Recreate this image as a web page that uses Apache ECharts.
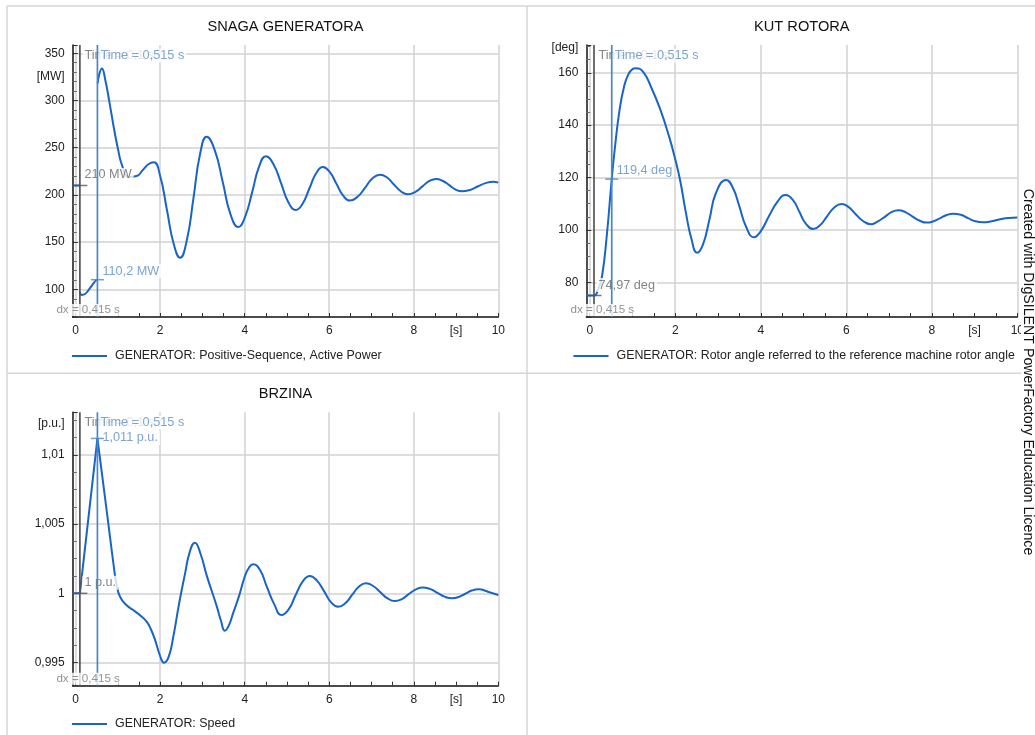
<!DOCTYPE html>
<html>
<head>
<meta charset="utf-8">
<script src="https://cdn.jsdelivr.net/npm/echarts@6/dist/echarts.min.js"></script>
<style>
html,body{margin:0;padding:0;background:#fff;}
#c{width:1035px;height:735px;}
</style>
</head>
<body>
<div id="c"></div>
<script>
// ---------- DATA ----------
const timeLabelValues = [0, 2, 4, 6, 8, 9, 10];
const timeLabelTexts  = ['0', '2', '4', '6', '8', '[s]', '10'];

const powerLabelValues = [100, 150, 200, 250, 300, 325, 350];
const powerLabelTexts  = ['100', '150', '200', '250', '300', '[MW]', '350'];
const rotorLabelValues = [80, 100, 120, 140, 160, 169.5];
const rotorLabelTexts  = ['80', '100', '120', '140', '160', '[deg]'];
const speedLabelValues = [0.995, 1, 1.005, 1.01, 1.0123];
const speedLabelTexts  = ['0,995', '1', '1,005', '1,01', '[p.u.]'];

const titles = ['SNAGA GENERATORA', 'KUT ROTORA', 'BRZINA'];
const seriesNames = [
  'GENERATOR: Positive-Sequence, Active Power',
  'GENERATOR: Rotor angle referred to the reference machine rotor angle',
  'GENERATOR: Speed'
];

// cursor times [s]
const cursorTimes = [0.1, 0.515];
const timeCursorTexts = ['Time = 0,1 s', 'Time = 0,515 s'];
const dxText = 'dx = 0,415 s';

// Active power [MW]
const powerPre = [[-0.07, 210], [0.1, 210]];
const powerFault = [[0.1, 97], [0.15, 94], [0.22, 95], [0.3, 99], [0.4, 105], [0.47, 109], [0.515, 110.2]];
const powerPost = [
  [0.52, 318], [0.56, 328], [0.62, 334], [0.7, 322], [0.8, 298], [0.9, 272], [1.0, 249], [1.1, 231],
  [1.25, 219], [1.44, 220], [1.6, 227], [1.72, 232.5], [1.85, 234.5], [2.0, 220], [2.16, 184],
  [2.32, 148], [2.47, 133.5], [2.63, 152], [2.79, 197.5], [2.94, 242.5], [3.1, 261.5], [3.29, 247.5],
  [3.48, 213.8], [3.66, 180], [3.85, 166], [4.01, 177], [4.18, 203.5], [4.34, 230], [4.5, 241],
  [4.68, 232.6], [4.86, 212.5], [5.03, 192.4], [5.21, 184], [5.37, 190.7], [5.53, 206.8],
  [5.69, 222.9], [5.85, 229.5], [6.01, 224.3], [6.17, 211.8], [6.33, 199.2], [6.49, 194],
  [6.67, 198], [6.85, 207.7], [7.02, 217.4], [7.2, 221.4], [7.37, 218.4], [7.53, 211],
  [7.7, 203.6], [7.86, 200.6], [8.03, 203], [8.2, 208.8], [8.36, 214.6], [8.53, 217],
  [8.68, 215], [8.84, 210.4], [8.99, 205.7], [9.14, 203.8], [9.33, 205.3], [9.51, 208.9],
  [9.7, 212.5], [9.88, 214], [10, 213]
];
const powerCursorValues = [210, 110.2];
const powerCursorTexts = ['210 MW', '110,2 MW'];

// Rotor angle [deg]
const rotorCurve = [
  [-0.08, 74.97], [0.1, 74.97], [0.2, 77.4], [0.29, 82.5], [0.4, 98], [0.515, 119.4], [0.6, 133],
  [0.7, 146], [0.8, 154.5], [0.9, 159.3], [1.0, 161.4], [1.07, 161.7], [1.25, 160.3], [1.45, 154],
  [1.65, 146], [1.85, 136], [2.0, 127], [2.12, 118.5], [2.25, 106.5], [2.38, 96.5], [2.51, 91.3],
  [2.65, 94.5], [2.8, 104], [2.95, 114], [3.19, 119.1], [3.35, 116], [3.5, 109], [3.65, 101.5],
  [3.84, 97.2], [4.0, 99.5], [4.2, 105.5], [4.4, 111], [4.57, 113.3], [4.75, 111.5], [4.9, 107],
  [5.05, 102.5], [5.23, 100.4], [5.4, 102], [5.55, 105.2], [5.72, 108.6], [5.89, 109.9],
  [6.05, 108.8], [6.22, 106], [6.4, 103.3], [6.57, 102.2], [6.73, 103.2], [6.9, 105], [7.06, 106.8],
  [7.22, 107.5], [7.38, 106.8], [7.55, 105.1], [7.72, 103.5], [7.88, 102.8], [8.04, 103.3],
  [8.2, 104.5], [8.35, 105.7], [8.5, 106.2], [8.68, 105.8], [8.85, 104.5], [9.02, 103.3],
  [9.2, 102.9], [9.4, 103.3], [9.6, 104.1], [9.8, 104.6], [10, 104.7]
];
const rotorCursorValues = [74.97, 119.4];
const rotorCursorTexts = ['74,97 deg', '119,4 deg'];

// Speed [p.u.]
const speedPre = [[-0.07, 1], [0.1, 1]];
const speedFault = [[0.1, 1], [0.515, 1.0112]];
const speedPost = [
  [0.515, 1.0112], [0.75, 1.0056], [0.9, 1.002], [0.97, 1.0006], [1.05, 0.99975], [1.2, 0.99915],
  [1.36, 0.99879], [1.55, 0.99835], [1.68, 0.99795], [1.78, 0.9974], [1.88, 0.99662], [2.0, 0.99545],
  [2.09, 0.99498], [2.2, 0.9954], [2.31, 0.99686], [2.45, 0.9993], [2.58, 1.0013], [2.7, 1.003],
  [2.82, 1.00366], [2.95, 1.0029], [3.1, 1.0013], [3.33, 0.99915], [3.44, 0.998], [3.53, 0.9973],
  [3.62, 0.99765], [3.73, 0.9986], [3.87, 0.99985], [4.0, 1.0012], [4.1, 1.00185], [4.2, 1.0021],
  [4.36, 1.0017], [4.52, 1.0005], [4.7, 0.9992], [4.87, 0.99843], [5.04, 0.99884], [5.2, 0.99984],
  [5.37, 1.00084], [5.54, 1.00125], [5.71, 1.00092], [5.88, 1.00014], [6.04, 0.99936],
  [6.21, 0.99903], [6.38, 0.99928], [6.54, 0.99988], [6.7, 1.00047], [6.87, 1.00072],
  [7.04, 1.00053], [7.21, 1.00008], [7.38, 0.99963], [7.55, 0.99944], [7.72, 0.99958],
  [7.88, 0.99994], [8.05, 1.00028], [8.21, 1.00043], [8.38, 1.00032], [8.56, 1.00004],
  [8.73, 0.99976], [8.9, 0.99964], [9.06, 0.99973], [9.22, 0.99997], [9.37, 1.0002],
  [9.53, 1.00029], [9.77, 1.0001], [10, 0.99988]
];
const speedCursorValues = [1, 1.0112];
const speedCursorTexts = ['1 p.u.', '1,011 p.u.'];

// ---------- STYLE ----------
const FONT = 'Liberation Sans, Arial, Helvetica, sans-serif';
const CURVE = '#1864c8';
const BLUE = '#4a86c8';
const BLUE_TXT = '#5b8dc6';
const GRAY = '#555555';
const GRAY_TXT = '#666666';
const GRID_C = '#d2d2d2';
const SMOOTH = 0.5;

const chart = echarts.init(document.getElementById('c'), null, {renderer: 'canvas'});

const grids = [
  {left: 72.7, top: 45, width: 425.6, height: 272},
  {left: 586.3, top: 45, width: 431, height: 272},
  {left: 72.7, top: 412.3, width: 425.6, height: 273.4}
];
const xRanges = [[-0.07, 10], [-0.08, 10], [-0.07, 10]];
const yRanges = [[70.7, 358.8], [66.76, 170.6], [0.99332, 1.01309]];
const ySplit = [6, 5, 4];
const yMinor = [5, 4, 4];
const yLabelVals = [powerLabelValues, rotorLabelValues, speedLabelValues];
const yLabelTxts = [powerLabelTexts, rotorLabelTexts, speedLabelTexts];

function lookup(vals, txts, v) {
  for (let i = 0; i < vals.length; i++) if (Math.abs(vals[i] - v) < 1e-7) return txts[i];
  return '';
}

const xAxes = grids.map((g, i) => ({
  type: 'value', gridIndex: i, min: xRanges[i][0], max: xRanges[i][1], splitNumber: 5,
  axisLine: {show: true, onZero: false, lineStyle: {color: '#111', width: 1.5}},
  axisTick: {show: true, inside: true, length: 4, lineStyle: {color: '#333'}},
  minorTick: {show: true, splitNumber: 4, length: 4, lineStyle: {color: '#333'}},
  axisLabel: {
    customValues: timeLabelValues,
    formatter: v => lookup(timeLabelValues, timeLabelTexts, v),
    margin: 8, color: '#222', fontSize: 12, fontFamily: FONT
  },
  splitLine: {show: true, showMinLine: false, showMaxLine: true, lineStyle: {color: GRID_C, width: 1.5}}
}));

const yAxes = grids.map((g, i) => ({
  type: 'value', gridIndex: i, min: yRanges[i][0], max: yRanges[i][1], splitNumber: ySplit[i],
  axisLine: {show: true, onZero: false, lineStyle: {color: '#111', width: 1.5}},
  axisTick: {show: true, inside: true, length: 5, lineStyle: {color: '#333'}},
  minorTick: {show: true, splitNumber: yMinor[i], length: 4, lineStyle: {color: '#666'}},
  axisLabel: {
    customValues: yLabelVals[i],
    formatter: v => lookup(yLabelVals[i], yLabelTxts[i], v),
    margin: 8, color: '#222', fontSize: 12, fontFamily: FONT
  },
  splitLine: {show: true, showMinLine: false, showMaxLine: false, lineStyle: {color: GRID_C, width: 1.5}}
}));

const series = [];
function curve(idx, data, smooth) {
  series.push({
    type: 'line', name: seriesNames[idx], xAxisIndex: idx, yAxisIndex: idx, data: data,
    showSymbol: false, smooth: smooth, z: 2, animation: false, silent: true,
    lineStyle: {color: CURVE, width: 2}, itemStyle: {color: CURVE}
  });
}
curve(0, powerPre, false);
curve(0, powerFault, SMOOTH);
curve(0, powerPost, SMOOTH);
curve(1, rotorCurve, SMOOTH);
curve(2, speedPre, false);
curve(2, speedFault, false);
curve(2, speedPost, SMOOTH);

function txtItem(x, y, text, color, pos, align, vAlign, fs, lh) {
  return {
    value: [x, y], symbol: 'rect', symbolSize: 1, itemStyle: {color: 'rgba(0,0,0,0)'},
    label: {
      show: true, formatter: text, position: pos, align: align, verticalAlign: vAlign,
      color: color, fontSize: fs || 12.7, fontFamily: FONT, backgroundColor: '#fff',
      padding: [0, 2], lineHeight: lh || 14
    }
  };
}
function labelSeries(idx, items, z) {
  series.push({
    type: 'scatter', xAxisIndex: idx, yAxisIndex: idx, data: items, z: z, clip: false,
    animation: false, silent: true
  });
}

const cursorVals = [powerCursorValues, rotorCursorValues, speedCursorValues];
const cursorTxts = [powerCursorTexts, rotorCursorTexts, speedCursorTexts];
const blueDy = [-8, -8, 0];

for (let i = 0; i < 3; i++) {
  const yMin = yRanges[i][0], yMax = yRanges[i][1];
  labelSeries(i, [
    txtItem(cursorTimes[0], cursorVals[i][0], cursorTxts[i][0], GRAY_TXT, [3, -10], 'left', 'middle'),
    txtItem(cursorTimes[1], cursorVals[i][1], cursorTxts[i][1], BLUE_TXT, [3.5, blueDy[i]], 'left', 'middle')
  ], 3);
  labelSeries(i, [txtItem(cursorTimes[0], yMax, timeCursorTexts[0], GRAY_TXT, [3, 11], 'left', 'middle')], 3);
  labelSeries(i, [txtItem(cursorTimes[1], yMax, timeCursorTexts[1], BLUE_TXT, [1.5, 11], 'left', 'middle')], 4);
  [0, 1].forEach(k => {
    series.push({
      type: 'line', xAxisIndex: i, yAxisIndex: i, z: 5, silent: true, animation: false,
      showSymbol: false, clip: false,
      data: [[cursorTimes[k], yMin], [cursorTimes[k], yMax]],
      lineStyle: {color: k === 0 ? GRAY : BLUE, width: 1.7}
    });
  });
  series.push({
    type: 'scatter', xAxisIndex: i, yAxisIndex: i, z: 5, silent: true, animation: false, clip: false,
    data: [
      {value: [cursorTimes[0], cursorVals[i][0]], symbolSize: [15, 1.5], itemStyle: {color: GRAY}},
      {value: [cursorTimes[1], cursorVals[i][1]], symbolSize: [13, 1.5], itemStyle: {color: BLUE}}
    ],
    symbol: 'rect'
  });
  labelSeries(i, [txtItem((cursorTimes[0] + cursorTimes[1]) / 2, yMin, dxText, '#777', [0, -6.5], 'center', 'middle', 11.6, 12)], 6);
}

const legends = [
  {left: 72, top: 350},
  {left: 573.5, top: 350},
  {left: 72, top: 718}
].map((p, i) => ({
  left: p.left, top: p.top, data: [seriesNames[i]], icon: 'rect', itemWidth: 35, itemHeight: 2,
  selectedMode: false, padding: 0,
  textStyle: {fontSize: 12.4, color: '#222', fontFamily: FONT, padding: [0, 0, 0, 3]}
}));

const titleCenters = [[285.5, 27], [801.8, 27], [285.5, 394]];
const graphics = [];
const lineStyle = {stroke: '#d6d6d6', lineWidth: 1.5};
graphics.push({type: 'line', shape: {x1: 7, y1: 6, x2: 1035, y2: 6}, style: lineStyle, silent: true});
graphics.push({type: 'line', shape: {x1: 7, y1: 6, x2: 7, y2: 735}, style: lineStyle, silent: true});
graphics.push({type: 'line', shape: {x1: 527, y1: 6, x2: 527, y2: 735}, style: lineStyle, silent: true});
graphics.push({type: 'line', shape: {x1: 7, y1: 373.3, x2: 1035, y2: 373.3}, style: lineStyle, silent: true});
titles.forEach((t, i) => {
  graphics.push({
    type: 'text', x: titleCenters[i][0], y: titleCenters[i][1], silent: true,
    style: {text: t, fill: '#111', font: '14.6px ' + FONT, textAlign: 'center', textVerticalAlign: 'middle'}
  });
});
graphics.push({
  type: 'text', x: 1028, y: 372, rotation: -Math.PI / 2, silent: true, z: 100,
  style: {
    text: 'Created with DIgSILENT PowerFactory Education Licence', fill: '#111',
    font: '14.2px ' + FONT, textAlign: 'center', textVerticalAlign: 'middle',
    backgroundColor: '#fff', padding: [0, 2]
  }
});

chart.setOption({
  animation: false,
  backgroundColor: '#fff',
  grid: grids,
  xAxis: xAxes,
  yAxis: yAxes,
  legend: legends,
  series: series,
  graphic: graphics
});
</script>
</body>
</html>
